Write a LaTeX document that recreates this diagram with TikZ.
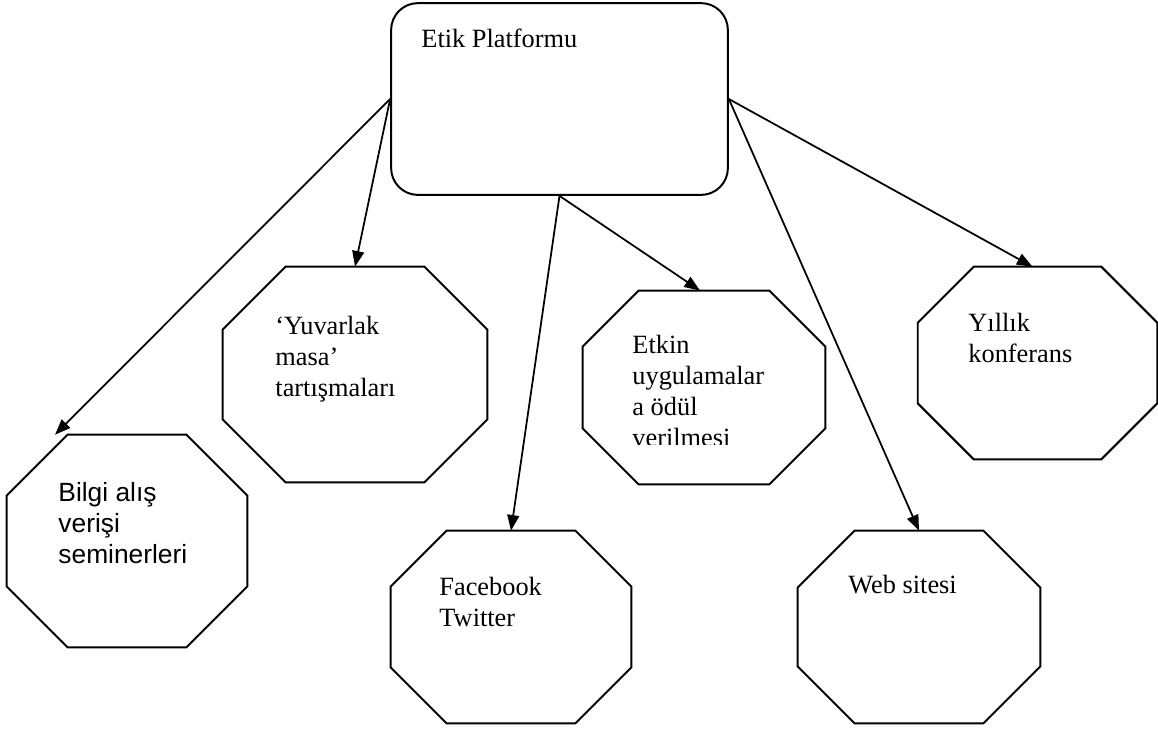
\documentclass[tikz,border=0pt]{standalone}
\usepackage{fontspec}
\setmainfont{Liberation Serif}
\newfontfamily\arialfont{Liberation Sans}
\usetikzlibrary{arrows.meta,calc}

% octagon drawn inside a node's box: #1 node name, #2 corner cut
\newcommand\octagonof[2]{%
  \draw[octline] ($(#1.north west)+(#2,0)$) -- ($(#1.north east)+(-#2,0)$)
    -- ($(#1.north east)+(0,#2)$) -- ($(#1.south east)+(0,-#2)$)
    -- ($(#1.south east)+(-#2,0)$) -- ($(#1.south west)+(#2,0)$)
    -- ($(#1.south west)+(0,-#2)$) -- ($(#1.north west)+(0,#2)$) -- cycle;}

\begin{document}
\begin{tikzpicture}[x=0.016cm, y=-0.016cm,
    font=\fontsize{12pt}{14.1pt}\selectfont,
    platbox/.style={draw, line width=0.9pt, rounded corners=0.43cm, inner sep=0pt},
    octbox/.style={rectangle, inner sep=0pt},
    octline/.style={line width=0.9pt, line join=miter},
    octtext/.style={anchor=base west, align=left, inner sep=0pt},
    link/.style={line width=0.8pt, -{Triangle[length=0.25cm, width=0.19cm]}}]
\useasboundingbox (0,0) rectangle (1158,729);

% Platform box at the top
\node[platbox, minimum width=5.39cm, minimum height=3.07cm] (plat) at (559.5,99) {};
\node[octtext] (plat-t) at (421,47) {Etik Platformu};

% Activity octagons
\node[octbox, minimum width=3.84cm, minimum height=3.39cm] (bilgi) at (127,541) {};
\node[octbox, minimum width=4.22cm, minimum height=3.44cm] (masa) at (355,374.5) {};
\node[octbox, minimum width=3.87cm, minimum height=3.09cm] (odul) at (704,387.5) {};
\node[octbox, minimum width=3.82cm, minimum height=3.07cm] (konf) at (1037.5,363) {};
\node[octbox, minimum width=3.84cm, minimum height=3.07cm] (sosyal) at (511,627) {};
\node[octbox, minimum width=3.87cm, minimum height=3.07cm] (web) at (919,627) {};
\octagonof{bilgi}{61}
\octagonof{masa}{63}
\octagonof{odul}{56}
\octagonof{konf}{56}
\octagonof{sosyal}{56}
\octagonof{web}{57}

% Texts inside the octagons (placed at the last baseline)
\node[octtext, font=\arialfont\fontsize{12pt}{14.1pt}\selectfont] (bilgi-t) at (58,563) {Bilgi alış\\verişi\\seminerleri};
\node[octtext] (masa-t) at (275,396) {‘Yuvarlak\\masa’\\tartışmaları};
\begin{scope}
  \clip (583,291) rectangle (825,444);
  \node[octtext] (odul-t) at (632,446) {Etkin\\uygulamalar\\a ödül\\verilmesi};
\end{scope}
\node[octtext] (konf-t) at (968,362) {Yıllık\\konferans};
\node[octtext] (sosyal-t) at (439,626) {Facebook\\Twitter};
\node[octtext] (web-t) at (848,593) {Web sitesi};

% Arrows from the platform
\coordinate (bilgi-in) at ($(bilgi.north)+(-72,0)$);
\draw[link] (plat.west) -- (bilgi-in);
\draw[link] (plat.west) -- (masa.north);
\draw[link] (plat.south) -- (sosyal.north);
\draw[link] (plat.south) -- ($(odul.north)+(-4,0)$);
\draw[link] (plat.east) -- ($(konf.north)+(-5,0)$);
\draw[link] (plat.east) -- (web.north);
\end{tikzpicture}
\end{document}
